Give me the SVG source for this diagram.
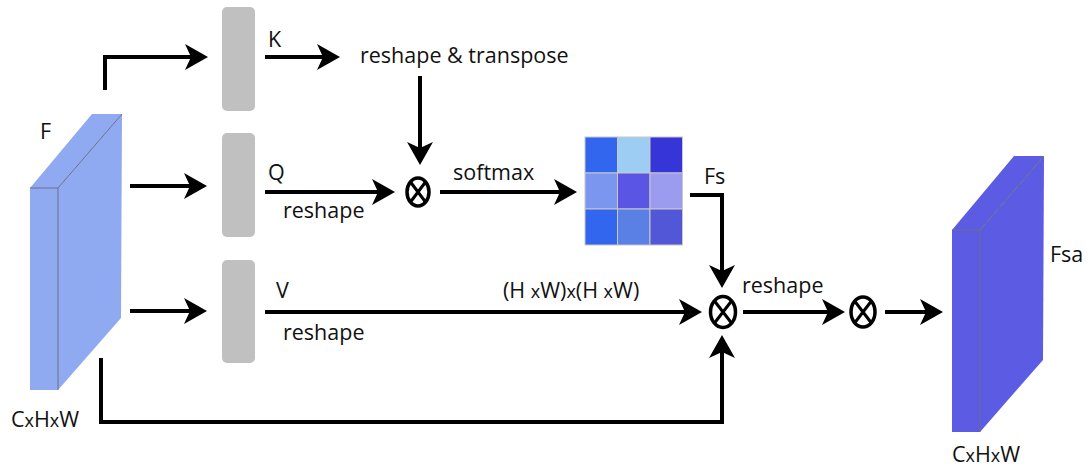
<svg xmlns="http://www.w3.org/2000/svg" width="1088" height="469" viewBox="0 0 1088 469">
<style>
text{font-family:"Open Sans","Liberation Sans",sans-serif;font-size:21.5px;fill:#111}
.sx{font-size:18px}
.ln{fill:none;stroke:#000;stroke-width:4;marker-end:url(#ah)}
.blk{fill:#c0c0c0}
.mul{fill:#fff;stroke:#000;stroke-width:3.5}
.cell{stroke:#c8c8c8;stroke-width:1}
.edge{stroke:#6e6e8a;stroke-width:1;fill:none}
</style>
<defs>
<marker id="ah" markerUnits="userSpaceOnUse" viewBox="-17 -14 24 28" refX="0" refY="0" markerWidth="24" markerHeight="28" orient="auto" overflow="visible">
<path d="M-17,-13 L6,0 L-17,13 L-11,0 Z" fill="#000"/>
</marker>
</defs>
<g id="F">
<polygon points="30,188 58,188 58,390 30,390" fill="#8faaf0"/>
<polygon points="30,188 92,114 122,114 58,188" fill="#8faaf0"/>
<polygon points="58,188 122,114 121,318 58,390" fill="#8faaf0"/>
<path class="edge" d="M30,188 H58 L122,114 M58,188 V390"/>
<text x="40" y="139">F</text>
<text x="11" y="427">C<tspan class="sx">x</tspan>H<tspan class="sx">x</tspan>W</text>
</g>
<g id="K"><rect class="blk" x="222" y="7" width="33" height="104" rx="5"/><text x="268" y="47">K</text></g>
<g id="Q"><rect class="blk" x="222" y="133" width="33" height="104" rx="5"/><text x="268" y="180">Q</text><text x="283" y="218">reshape</text></g>
<g id="V"><rect class="blk" x="222" y="260" width="33" height="103" rx="5"/><text x="276" y="298">V</text><text x="283" y="340">reshape</text></g>
<g id="transpose"><text x="360" y="63">reshape &amp; transpose</text></g>
<g id="mul1"><ellipse class="mul" cx="418" cy="192" rx="11" ry="14"/><path d="M410.5,182 L425.5,202 M425.5,182 L410.5,202" stroke="#000" stroke-width="3"/></g>
<g id="Fs">
<rect class="cell" x="585" y="137" width="32.5" height="36" fill="#3366ee"/>
<rect class="cell" x="617.5" y="137" width="32.5" height="36" fill="#9dcdf3"/>
<rect class="cell" x="650" y="137" width="32.5" height="36" fill="#3535d8"/>
<rect class="cell" x="585" y="173" width="32.5" height="36" fill="#7b96ee"/>
<rect class="cell" x="617.5" y="173" width="32.5" height="36" fill="#5a55e2"/>
<rect class="cell" x="650" y="173" width="32.5" height="36" fill="#9b9cf0"/>
<rect class="cell" x="585" y="209" width="32.5" height="36" fill="#3366ee"/>
<rect class="cell" x="617.5" y="209" width="32.5" height="36" fill="#5a80e6"/>
<rect class="cell" x="650" y="209" width="32.5" height="36" fill="#5257d8"/>
<text x="704" y="184">Fs</text>
</g>
<g id="mul2"><ellipse class="mul" cx="723" cy="312" rx="12.5" ry="15.5"/><path d="M714.5,301 L731.5,323 M731.5,301 L714.5,323" stroke="#000" stroke-width="3"/></g>
<g id="mul3"><ellipse class="mul" cx="863" cy="312" rx="12" ry="15"/><path d="M855,301.5 L871,322.5 M871,301.5 L855,322.5" stroke="#000" stroke-width="3"/></g>
<g id="Fsa">
<polygon points="952,230 980,230 980,432 952,432" fill="#5b5be3"/>
<polygon points="952,230 1014,156 1044,156 980,230" fill="#5b5be3"/>
<polygon points="980,230 1044,156 1043,360 980,432" fill="#5b5be3"/>
<path class="edge" d="M952,230 H980 L1044,156 M980,230 V432"/>
<text x="1050" y="262">Fsa</text>
<text x="952" y="462">C<tspan class="sx">x</tspan>H<tspan class="sx">x</tspan>W</text>
</g>
<g id="labels">
<text x="453" y="180">softmax</text>
<text x="503" y="298">(H <tspan class="sx">x</tspan>W)<tspan class="sx">x</tspan>(H <tspan class="sx">x</tspan>W)</text>
<text x="742" y="293">reshape</text>
</g>
<g id="connectors">
<path class="ln" d="M105,90 V57 H202"/>
<path class="ln" d="M130,186 H201"/>
<path class="ln" d="M130,311 H201"/>
<path class="ln" d="M265,57 H334"/>
<path class="ln" d="M420,76 V159"/>
<path class="ln" d="M265,192 H389"/>
<path class="ln" d="M440,192 H571"/>
<path class="ln" d="M690,195 H722 V282"/>
<path class="ln" d="M265,312 H696"/>
<path class="ln" d="M101,358 V422 H722 V341"/>
<path class="ln" d="M743,312 H839"/>
<path class="ln" d="M885,312 H937"/>
</g>
</svg>
